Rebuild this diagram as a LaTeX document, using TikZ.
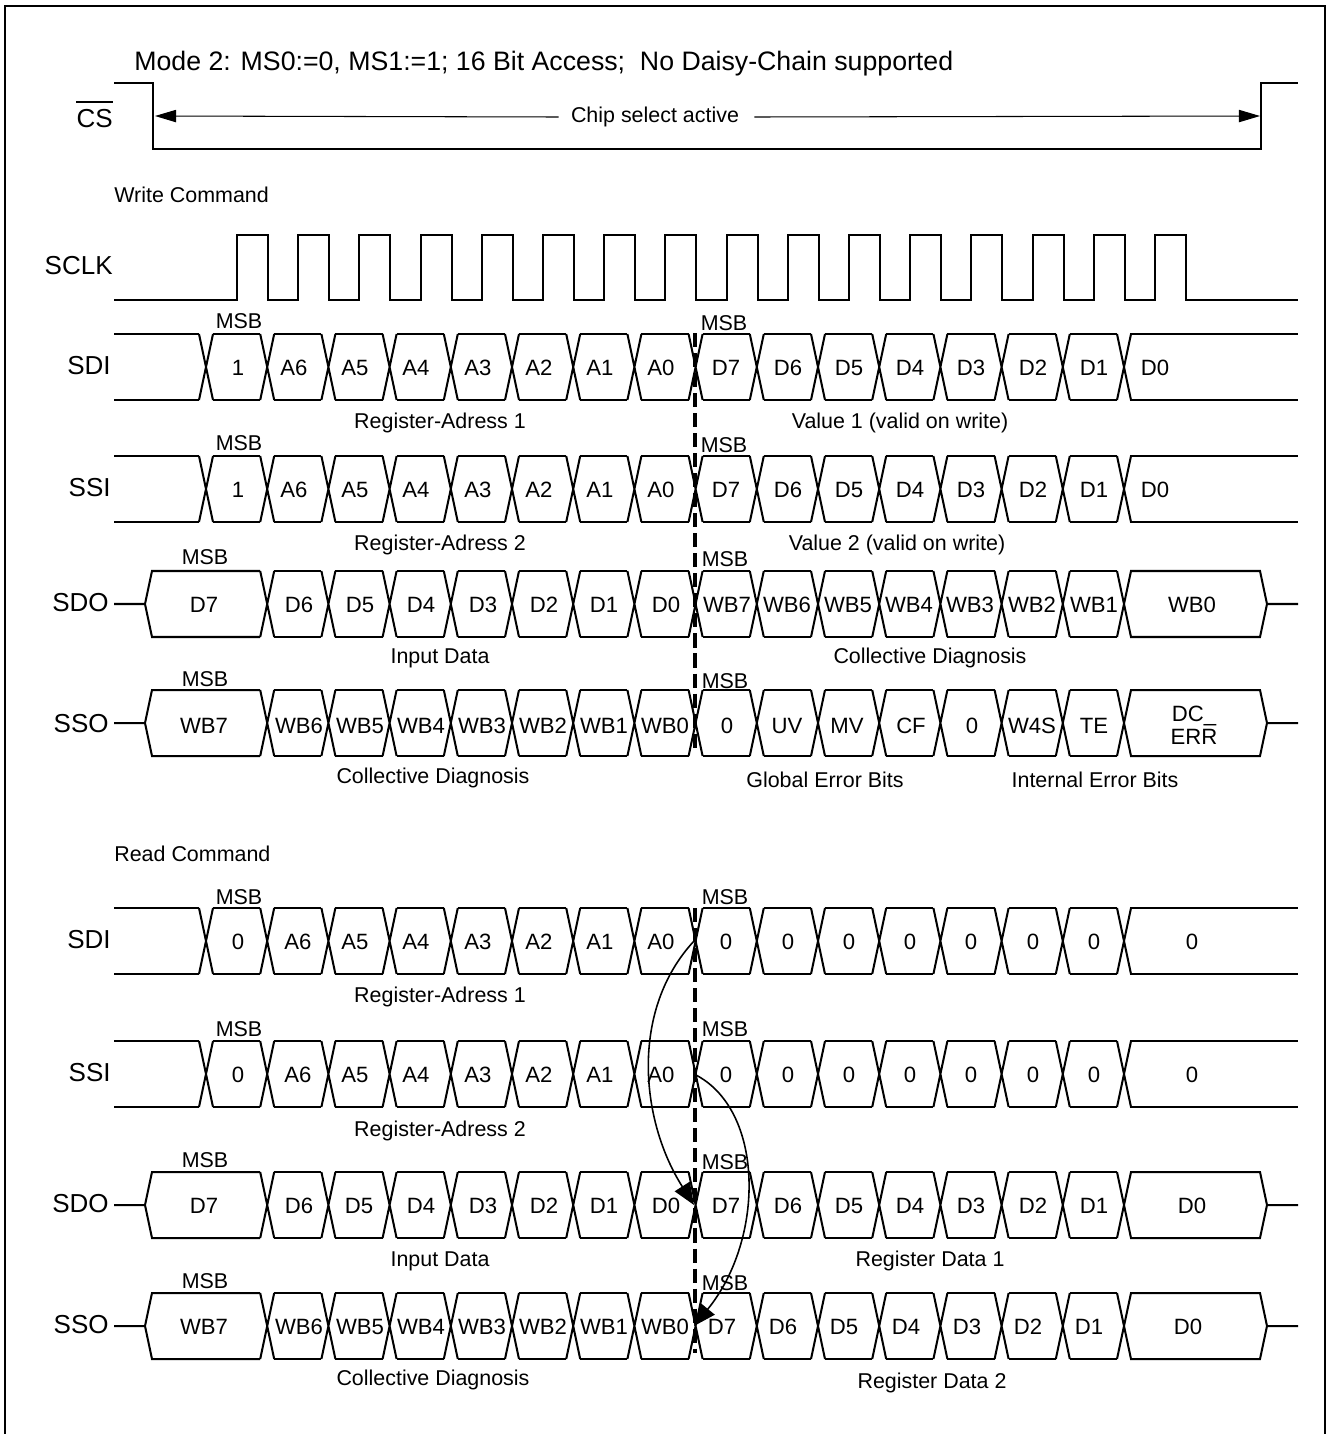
\documentclass[tikz,border=0pt]{standalone}
\usepackage{fontspec}
\setmainfont{Liberation Sans}
\usetikzlibrary{%
  arrows.meta,
  positioning
}
\tikzset{
  sigline/.style={line width=1.15pt},
  celltext/.style={inner sep=0pt,align=center,font=\fontsize{12.6}{13}\selectfont},
  smalltext/.style={inner sep=0pt,font=\fontsize{12.2}{14}\selectfont},
  siglabel/.style={inner sep=0pt,anchor=east,font=\fontsize{14.8}{16}\selectfont},
  busmark/.style={line width=2.1pt,dash pattern=on 8pt off 3.4pt},
  flow/.style={line width=0.9pt,-{Triangle[length=12.5pt,width=10pt]}},
  spanarrow/.style={line width=0.6pt,-{Triangle[length=12pt,width=7pt]}}
}
\begin{document}
\begin{tikzpicture}[x=0.02cm,y=-0.02cm]
  \useasboundingbox (0,0) rectangle (1327,1434);
  \draw [line width=1.3pt] (5,1440) -- (5,6) -- (1325,6) -- (1325,1440);

  \def\lshift{-1}
  % shared part of a data row, #1 is the first crossing
  \def\cross#1{
    \foreach \i in {#1,...,15}{
      \pgfmathsetmacro\x{206+61.2*\i}
      \draw [sigline] (\x-7,-33) -- (\x+7,33) (\x-7,33) -- (\x+7,-33);
    }
    \foreach \i in {#1,...,14}{
      \pgfmathsetmacro\x{206+61.2*\i}
      \draw [sigline] (\x+7,-33) -- (\x+54.2,-33) (\x+7,33) -- (\x+54.2,33);
    }
  }
  % rows driven into the chip, open at both ends
  \def\sigin(#1)#2#3#4{
    \begin{scope}[shift={(0,#1)}]
      \cross{0}
      \draw [sigline] (114,-33) -- (199,-33) (114,33) -- (199,33);
      \draw [sigline] (1130,-33) -- (1298,-33) (1130,33) -- (1298,33);
      \node [siglabel] (#2-name) at (111,\lshift) {#3};
      \coordinate (#2-mid) at (694,0);
      \foreach \x/\l [count = \i] in {#4}{
        \node [celltext] (#2-\i) at (\x,\lshift+2) {\l};
      }
    \end{scope}
  }
  % rows driven by the chip, closed at both ends
  \def\sigout(#1)#2#3#4{
    \begin{scope}[shift={(0,#1)}]
      \cross{1}
      \draw [sigline] (114,0) -- (145,0) -- (152,-33) -- (260.2,-33) (145,0) -- (152,33) -- (260.2,33);
      \draw [sigline] (1130,-33) -- (1260,-33) -- (1267,0) -- (1298,0) (1130,33) -- (1260,33) -- (1267,0);
      \node [siglabel] (#2-name) at (109,\lshift) {#3};
      \coordinate (#2-mid) at (694,0);
      \foreach \x/\l [count = \i] in {#4}{
        \node [celltext] (#2-\i) at (\x,\lshift+2) {\l};
      }
    \end{scope}
  }

  \node [anchor=west,inner sep=0pt,font=\fontsize{15.2}{16}\selectfont] (title) at (134,64)
    {Mode 2: MS0:=0, MS1:=1; 16 Bit Access;\ \ No Daisy-Chain supported};

  % chip select
  \node [siglabel] (cs) at (113,119) {CS};
  \draw [line width=0.7pt] ([yshift=4.2pt]cs.north west) -- ([yshift=4.2pt]cs.north east);
  \draw [sigline] (114,83) -- (153,83) -- (153,149) -- (1261,149) -- (1261,83) -- (1298,83);
  \coordinate (csl) at (155,116);
  \coordinate (csr) at (1260,116);
  \node [smalltext] (active) at (655,117) {Chip select active};
  \draw [spanarrow] (active.west) ++(-12,0) -- (csl);
  \draw [spanarrow] (active.east) ++(15,0) -- (csr);

  \node [smalltext,anchor=west] (write) at (114,195) {Write Command};

  % clock
  \node [siglabel] (sclk) at (113,266) {SCLK};
  \draw [sigline] (114,300)
    \foreach \i in {0,...,15}{ -- ({237+61.2*\i},300) -- ({237+61.2*\i},235) -- ({268+61.2*\i},235) -- ({268+61.2*\i},300) }
    -- (1298,300);

  \sigin(367){sdiw}{SDI}{238/1,294/A6,355/A5,416/A4,478/A3,539/A2,600/A1,661/A0,726/D7,788/D6,849/D5,910/D4,971/D3,1033/D2,1094/D1,1155/D0}
  \sigin(489){ssiw}{SSI}{238/1,294/A6,355/A5,416/A4,478/A3,539/A2,600/A1,661/A0,726/D7,788/D6,849/D5,910/D4,971/D3,1033/D2,1094/D1,1155/D0}
  \sigout(604){sdow}{SDO}{204/D7,299/D6,360/D5,421/D4,483/D3,544/D2,604/D1,666/D0,727/WB7,787/WB6,848/WB5,909/WB4,970/WB3,1032/WB2,1094/WB1,1192/WB0}
  \def\lshift{0.5}
  \sigout(723){ssow}{SSO}{204/WB7,299/WB6,360/WB5,421/WB4,482/WB3,543/WB2,604/WB1,665/WB0,727/0,787/UV,847/MV,911/CF,972/0,1032/W4S,1094/TE,1194/{DC\_\\ERR}}
  \def\lshift{-1}

  \node [smalltext,anchor=west] (read) at (114,854) {Read Command};

  \sigin(941){sdir}{SDI}{238/0,298/A6,355/A5,416/A4,478/A3,539/A2,600/A1,661/A0,726/0,788/0,849/0,910/0,971/0,1033/0,1094/0,1192/0}
  \sigin(1074){ssir}{SSI}{238/0,298/A6,355/A5,416/A4,478/A3,539/A2,600/A1,661/A0,726/0,788/0,849/0,910/0,971/0,1033/0,1094/0,1192/0}
  \sigout(1205){sdor}{SDO}{204/D7,299/D6,359/D5,421/D4,483/D3,544/D2,604/D1,666/D0,726/D7,788/D6,849/D5,910/D4,971/D3,1033/D2,1094/D1,1192/D0}
  \sigout(1326){ssor}{SSO}{204/WB7,299/WB6,360/WB5,421/WB4,482/WB3,543/WB2,604/WB1,665/WB0,722/D7,783/D6,844/D5,906/D4,967/D3,1028/D2,1089/D1,1188/D0}

  % MSB marks
  \foreach \n/\x/\y [count = \i] in {a/239/321,b/724/323,c/239/443,d/724/445,e/205/557,f/725/559,g/205/679,h/725/681,
      j/239/897,k/725/897,l/239/1029,m/725/1029,n/205/1160,o/725/1162,p/205/1281,q/725/1283}{
    \node [smalltext] (msb-\n) at (\x,\y) {MSB};
  }

  % texts under the rows
  \node [smalltext] (adr1w) at (440,423) {Register-Adress 1};
  \node [smalltext] (val1) at (900,423) {Value 1 (valid on write)};
  \node [smalltext] (adr2w) at (440,545) {Register-Adress 2};
  \node [smalltext] (val2) at (897,545) {Value 2 (valid on write)};
  \node [smalltext] (inw) at (440,658) {Input Data};
  \node [smalltext] (cdw1) at (930,658) {Collective Diagnosis};
  \node [smalltext] (cdw2) at (433,778) {Collective Diagnosis};
  \node [smalltext] (geb) at (825,780) {Global Error Bits};
  \node [smalltext] (ieb) at (1095,780) {Internal Error Bits};
  \node [smalltext] (adr1r) at (440,997) {Register-Adress 1};
  \node [smalltext] (adr2r) at (440,1131) {Register-Adress 2};
  \node [smalltext] (inr) at (440,1261) {Input Data};
  \node [smalltext] (rd1) at (930,1261) {Register Data 1};
  \node [smalltext] (cdr) at (433,1380) {Collective Diagnosis};
  \node [smalltext] (rd2) at (932,1383) {Register Data 2};

  \draw [busmark] (695,333) -- (695,753);
  \draw [busmark] (695,908) -- (695,1353);

  \draw [flow] (sdir-mid) .. controls +(-64,69) and +(-54,-85) .. (sdor-mid);
  \draw [flow] (ssir-mid) .. controls +(71,35) and +(71,-87) .. (ssor-mid);
\end{tikzpicture}
\end{document}
